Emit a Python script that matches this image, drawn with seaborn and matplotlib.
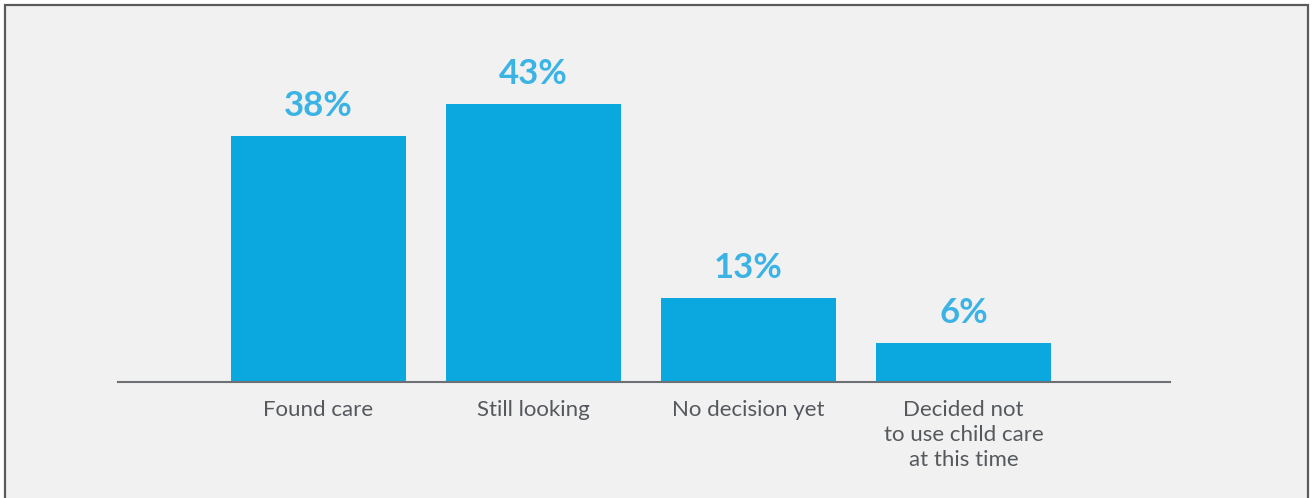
import matplotlib
matplotlib.use("Agg")
import matplotlib.pyplot as plt
from matplotlib.patches import Rectangle
import seaborn as sns
import pandas as pd

# Survey responses: status of the child-care search
categories = ["Found care", "Still looking", "No decision yet",
              "Decided not\nto use child care\nat this time"]
shares = [38, 43, 13, 6]

BAR_COLOR = "#0aa8de"
VALUE_COLOR = "#3bb3e5"
TEXT_COLOR = "#55595e"
PANEL_COLOR = "#f1f1f1"

sns.set_theme(style="white")
plt.rcParams["font.family"] = ["Lato", "DejaVu Sans"]

W, H = 1314, 498
fig = plt.figure(figsize=(W / 100, H / 100), dpi=100, facecolor="white")

# Framed panel behind the chart
fig.patches.append(Rectangle((4.5 / W, -0.05), (1308 - 4.5) / W, 1.05 - 5 / H,
                             transform=fig.transFigure, facecolor=PANEL_COLOR,
                             edgecolor="#5b5b5b", linewidth=1.6, zorder=-10))

base_y = 382
top_y = 20
ax = fig.add_axes([118 / W, (H - base_y) / H, (1170 - 118) / W, (base_y - top_y) / H])
ax.set_facecolor("none")
ax.set_zorder(5)

df = pd.DataFrame({"status": categories, "share": shares})
sns.barplot(data=df, x="status", y="share", color=BAR_COLOR, saturation=1,
            width=0.814, linewidth=0, edgecolor="none", ax=ax)

ax.set_xlim(-0.93, 3.96)
ax.set_ylim(0, (base_y - top_y) / 6.47)

for i, v in enumerate(shares):
    ax.annotate(f"{v}%", xy=(i, v), xytext=(0, 14), textcoords="offset pixels",
                ha="center", va="bottom", fontsize=25, fontweight="bold",
                color=VALUE_COLOR)

for s in ["top", "left", "right"]:
    ax.spines[s].set_visible(False)
ax.spines["bottom"].set_color("#6d7075")
ax.spines["bottom"].set_linewidth(1.5)

ax.set_yticks([])
ax.set_xlabel("")
ax.set_ylabel("")
ax.tick_params(axis="x", length=0, pad=13)
ax.set_xticks(range(len(categories)))
ax.set_xticklabels(categories, fontsize=16, color=TEXT_COLOR,
                   linespacing=1.3, va="top", ha="center")

fig.savefig("out.png", dpi=100, facecolor="white")
